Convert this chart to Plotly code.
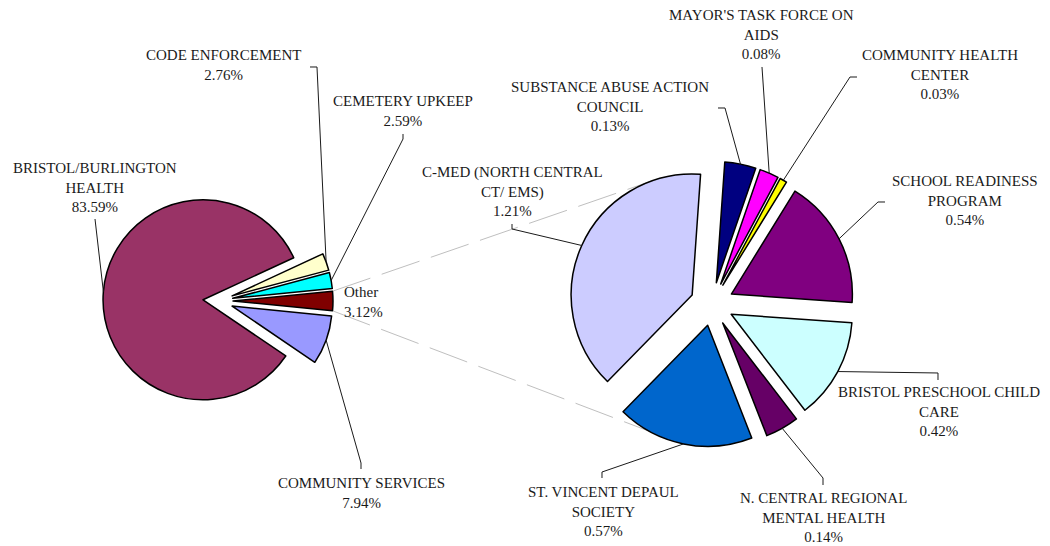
import math
import plotly.graph_objects as go

# ---------------- data ----------------
main_labels = ["CODE ENFORCEMENT", "CEMETERY UPKEEP", "Other", "COMMUNITY SERVICES",
               "BRISTOL/BURLINGTON HEALTH"]
main_values = [2.76, 2.59, 3.12, 7.94, 83.59]
main_colors = ["#FFFFCC", "#00FFFF", "#800000", "#9999FF", "#993366"]

sub_labels = ["SUBSTANCE ABUSE ACTION COUNCIL", "MAYOR'S TASK FORCE ON AIDS",
              "COMMUNITY HEALTH CENTER", "SCHOOL READINESS PROGRAM",
              "BRISTOL PRESCHOOL CHILD CARE", "N. CENTRAL REGIONAL MENTAL HEALTH",
              "ST. VINCENT DEPAUL SOCIETY", "C-MED (NORTH CENTRAL CT/ EMS)"]
sub_values = [0.13, 0.08, 0.03, 0.54, 0.42, 0.14, 0.57, 1.21]
sub_colors = ["#000080", "#FF00FF", "#FFFF00", "#800080", "#CCFFFF", "#660066",
              "#0066CC", "#CCCCFF"]

main_text = ["CODE ENFORCEMENT", "CEMETERY UPKEEP", "Other", "COMMUNITY SERVICES",
             "BRISTOL/BURLINGTON<br>HEALTH"]
sub_text = ["SUBSTANCE ABUSE ACTION<br>COUNCIL", "MAYOR'S TASK FORCE ON<br>AIDS",
            "COMMUNITY HEALTH<br>CENTER", "SCHOOL READINESS<br>PROGRAM",
            "BRISTOL PRESCHOOL CHILD<br>CARE", "N. CENTRAL REGIONAL<br>MENTAL HEALTH",
            "ST. VINCENT DEPAUL<br>SOCIETY", "C-MED (NORTH CENTRAL<br>CT/ EMS)"]

# ---------------- layout geometry (pixels) ----------------
W, H = 1050, 546
L_CX, L_CY, L_R, L_PULL = 218, 301, 100, 0.15
R_CX, R_CY, R_R, R_PULL = 712, 304, 121, 0.18
R_ROT = 4
OTHER_IDX = 2

tot_main = sum(main_values)
before = sum(main_values[:OTHER_IDX])
L_ROT = 90 - (before + main_values[OTHER_IDX] / 2) / tot_main * 360


def px(x):
    return x / W


def py(y):
    return 1 - y / H


def domain(cx, cy, r, pull):
    half = r * (1 + pull)
    return dict(x=[px(cx - half), px(cx + half)], y=[py(cy + half), py(cy - half)])


def angles(values, rot):
    tot = sum(values)
    out, cum = [], 0
    for v in values:
        a0 = rot + cum / tot * 360
        a1 = rot + (cum + v) / tot * 360
        out.append((a0, a1, (a0 + a1) / 2))
        cum += v
    return out


def vertex(cx, cy, r, pull, ang):
    d = r * pull
    a = math.radians(ang)
    return cx + d * math.sin(a), cy - d * math.cos(a)


def on_circle(vx, vy, r, ang):
    a = math.radians(ang)
    return vx + r * math.sin(a), vy - r * math.cos(a)


main_ang = angles(main_values, L_ROT)
sub_ang = angles(sub_values, R_ROT)

FONT = "Liberation Serif"
TXT = "#1a1a1a"

fig = go.Figure()
fig.add_trace(go.Pie(
    labels=main_labels, values=main_values, sort=False, direction="clockwise",
    rotation=L_ROT, pull=L_PULL, textinfo="none", hoverinfo="label+percent",
    marker=dict(colors=main_colors, line=dict(color="black", width=1.5)),
    domain=domain(L_CX, L_CY, L_R, L_PULL), showlegend=False))
fig.add_trace(go.Pie(
    labels=sub_labels, values=sub_values, sort=False, direction="clockwise",
    rotation=R_ROT, pull=R_PULL, textinfo="none", hoverinfo="label+value",
    marker=dict(colors=sub_colors, line=dict(color="black", width=1.5)),
    domain=domain(R_CX, R_CY, R_R, R_PULL), showlegend=False))

shapes = []
annotations = []

# ---- dashed connectors between the "Other" slice and the secondary pie ----
o0, o1, om = main_ang[OTHER_IDX]
ovx, ovy = vertex(L_CX, L_CY, L_R, L_PULL, om)
top_start = on_circle(ovx, ovy, L_R, o0)
bot_start = on_circle(ovx, ovy, L_R, o1)
cm = sub_ang[-1]
cvx, cvy = vertex(R_CX, R_CY, R_R, R_PULL, cm[2])
top_end = on_circle(cvx, cvy, R_R, 340)
sv = sub_ang[-2]
svx, svy = vertex(R_CX, R_CY, R_R, R_PULL, sv[2])
bot_end = on_circle(svx, svy, R_R, 209)
for s, e in [(top_start, top_end), (bot_start, bot_end)]:
    shapes.append(dict(type="line", xref="paper", yref="paper", layer="below",
                       x0=px(s[0]), y0=py(s[1]), x1=px(e[0]), y1=py(e[1]),
                       line=dict(color="#BFBFBF", width=1, dash="40px,12px")))

# ---- label placement: (text centre x, text middle y, leader start points) ----
main_place = [
    (223, 65, [(310, 67), (317, 67)]),
    (403, 111, [(403, 134), (403, 139)]),
    (342, 302, None),
    (361, 493, [(361, 469), (361, 463)]),
    (95, 187, [(95, 219)]),
]
sub_place = [
    (610, 107, [(718, 108), (725, 108)]),
    (761, 34, [(762, 67)]),
    (940, 75, [(857, 77), (850, 77)]),
    (965, 200, [(885, 202), (878, 202)]),
    (939, 411, [(938, 380), (938, 373)]),
    (823, 517, [(823, 485), (823, 478)]),
    (603, 511, [(602, 478), (602, 472)]),
    (512, 191, [(512, 224), (512, 229)]),
]


def add_labels(texts, values, angs, place, cx, cy, r, pull):
    for t, v, (a0, a1, am), (lx, ly, lead) in zip(texts, values, angs, place):
        if lead is None:
            annotations.append(dict(text=f"{t}<br>{v:.2f}%", x=px(lx), y=py(ly),
                                    xref="paper", yref="paper", showarrow=False,
                                    xanchor="left", yanchor="middle", align="left",
                                    font=dict(family=FONT, size=15, color=TXT)))
            continue
        annotations.append(dict(text=f"{t}<br>{v:.2f}%", x=px(lx), y=py(ly),
                                xref="paper", yref="paper", showarrow=False,
                                xanchor="center", yanchor="middle", align="center",
                                font=dict(family=FONT, size=15, color=TXT)))
        vx, vy = vertex(cx, cy, r, pull, am)
        ex, ey = on_circle(vx, vy, r, am)
        pts = list(lead) + [(ex, ey)]
        path = "M " + " L ".join(f"{px(x):.5f},{py(y):.5f}" for x, y in pts)
        shapes.append(dict(type="path", xref="paper", yref="paper", path=path,
                           line=dict(color=TXT, width=1)))


add_labels(main_text, main_values, main_ang, main_place, L_CX, L_CY, L_R, L_PULL)
add_labels(sub_text, sub_values, sub_ang, sub_place, R_CX, R_CY, R_R, R_PULL)

fig.update_layout(
    width=W, height=H, margin=dict(l=0, r=0, t=0, b=0),
    paper_bgcolor="white", plot_bgcolor="white",
    showlegend=False, shapes=shapes, annotations=annotations,
)

fig.write_html("out.html")
